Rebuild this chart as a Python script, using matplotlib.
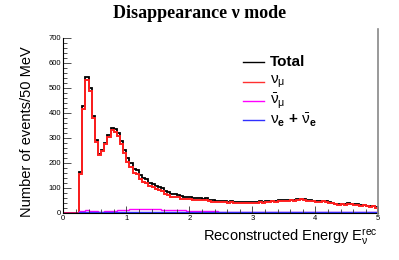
import numpy as np
import matplotlib
matplotlib.use("Agg")
import matplotlib.pyplot as plt
from matplotlib.lines import Line2D
from matplotlib.ticker import MultipleLocator

plt.rcParams['font.family'] = ['Liberation Sans', 'DejaVu Sans']
plt.rcParams['mathtext.fontset'] = 'custom'
plt.rcParams['mathtext.rm'] = 'Liberation Sans'
plt.rcParams['mathtext.it'] = 'Liberation Sans'
plt.rcParams['mathtext.bf'] = 'Liberation Sans:bold'

# ---- data (50 MeV bins from 0 to 5 GeV) ----
bin_edges = np.round(np.arange(0, 5.0001, 0.05), 3)

# total (black), bins from 0.00 ... 4.95
total = [0, 0, 0, 0, 0,
         162, 428, 542, 498, 388, 292, 236, 252, 280, 312,
         338, 334, 318, 288, 252, 218, 198, 174, 172, 151,
         140, 135, 120, 116, 108, 104, 100, 88, 84, 76,
         74, 72, 66, 64, 63, 62, 60, 58, 57, 56,
         57, 52, 50, 48, 47, 48, 46, 44, 45, 43,
         44, 41, 42, 41, 43, 44, 43, 45, 44, 47,
         46, 48, 47, 50, 49, 51, 50, 52, 50, 53,
         56, 54, 50, 49, 48, 47, 46, 48, 45, 43,
         40, 36, 35, 36, 34, 38, 36, 33, 34, 30,
         31, 28, 25, 27, 22]

# numu-bar (magenta)
numubar = [0, 0, 0, 0, 0,
           5, 8, 9, 8, 6, 5, 4, 4, 5, 6,
           7, 8, 9, 10, 11, 12, 13, 13, 14, 14,
           15, 15, 14, 14, 13, 13, 12, 12, 11, 11,
           10, 10, 9, 9, 8, 8, 7, 7, 6, 6,
           6, 5, 5, 5, 4, 4, 4, 4, 3, 3,
           3, 3, 3, 3, 3, 3, 3, 3, 3, 2,
           3, 2, 3, 2, 2, 3, 2, 2, 3, 2,
           2, 2, 2, 2, 2, 2, 2, 2, 2, 2,
           2, 2, 2, 2, 2, 2, 2, 2, 1, 2,
           1, 1, 2, 1, 1]

# nue + nuebar (blue)
nue = [0, 0, 0, 0, 0,
       2, 3, 3, 3, 2, 2, 2, 2, 1, 1,
       1, 1, 1, 1, 1, 1, 1, 1, 1, 1,
       1, 1, 1, 1, 1, 1, 1, 1, 1, 1,
       1, 1, 1, 1, 1, 1, 1, 1, 1, 1,
       1, 1, 1, 1, 1, 1, 1, 1, 1, 1,
       1, 1, 1, 1, 1, 1, 1, 1, 1, 1,
       1, 1, 1, 1, 1, 1, 1, 1, 1, 1,
       1, 1, 1, 1, 1, 1, 1, 1, 1, 1,
       1, 1, 1, 1, 1, 1, 1, 1, 1, 1,
       1, 1, 1, 1, 1]

total = np.array(total, float)
numubar = np.array(numubar, float)
nue = np.array(nue, float)
numu = total - numubar - nue

W, H = 399, 260
fig = plt.figure(figsize=(W / 100, H / 100), dpi=100)
L, R, T, B = 63.3, 378.3, 38.0, 212.7
ax = fig.add_axes([L / W, 1 - B / H, (R - L) / W, (B - T) / H])

ax.stairs(total, bin_edges, baseline=0, color='black', lw=1.3)
ax.stairs(numu, bin_edges, baseline=0, color='#ff2020', lw=1.4)
ax.stairs(numubar, bin_edges, baseline=0, color='#ff00ff', lw=1.0)
ax.stairs(nue, bin_edges, baseline=0, color='#3030ff', lw=1.0)

ax.set_xlim(0, 5)
ax.set_ylim(0, 700)
ax.xaxis.set_major_locator(MultipleLocator(1))
ax.xaxis.set_minor_locator(MultipleLocator(0.2))
ax.yaxis.set_major_locator(MultipleLocator(100))
ax.yaxis.set_minor_locator(MultipleLocator(20))
ax.tick_params(which='both', direction='in', labelsize=5.5, width=0.6, color='#333333')
ax.tick_params(axis='y', which='major', length=6, pad=1.5)
ax.tick_params(axis='y', which='minor', length=3)
ax.tick_params(axis='x', which='major', length=5, pad=1.5)
ax.tick_params(axis='x', which='minor', length=3)
ax.spines['top'].set_visible(False)
ax.spines['right'].set_visible(False)
ax.spines['left'].set_linewidth(0.8)
ax.spines['bottom'].set_linewidth(0.8)

# right border line (grey)
fig.add_artist(Line2D([378.3 / W, 378.3 / W], [1 - 213.5 / H, 1 - 29 / H],
                      transform=fig.transFigure, color='#888888', lw=1.2))

fig.text(200 / W, 1 - 13 / H, 'Disappearance \u03bd mode', ha='center', va='center',
         fontsize=13, fontweight='bold', family=['Liberation Serif', 'DejaVu Serif'])

fig.text(27 / W, 1 - 132 / H, 'Number of events/50 MeV', rotation=90,
         ha='center', va='center', fontsize=10.5)
fig.text(378 / W, 1 - 237 / H, r'Reconstructed Energy E$_{\nu}^{\mathrm{rec}}$',
         ha='right', va='center', fontsize=10.5)

# legend (manual)
entries = [('Total', 'black', True),
           (r'$\nu_{\mu}$', '#ff3030', False),
           (r'$\bar{\nu}_{\mu}$', '#ff00ff', False),
           (r'$\nu_{\mathbf{e}}$ $\mathbf{+}$ $\bar{\nu}_{\mathbf{e}}$', '#3030ff', False)]
ys = [62, 81.5, 101, 120]
for (lab, col, bold), y in zip(entries, ys):
    fig.add_artist(Line2D([243 / W, 264 / W], [1 - y / H, 1 - y / H],
                          transform=fig.transFigure, color=col, lw=1.0))
    fig.text(270 / W, 1 - y / H, lab, ha='left', va='center', fontsize=11,
             fontweight='bold' if bold else 'normal')

fig.savefig('out.png', dpi=100)
